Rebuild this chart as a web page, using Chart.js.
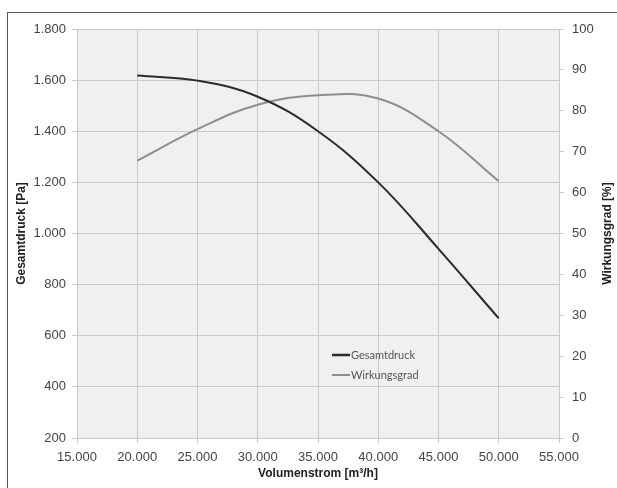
<!DOCTYPE html>
<html>
<head>
<meta charset="utf-8">
<script src="https://cdn.jsdelivr.net/npm/chart.js@4"></script>
<style>
    body { margin: 0; background: #fff; overflow: hidden; }
    #frame { position: absolute; left: 7px; top: 12px; width: 700px; height: 600px;
             border-left: 1px solid #555; border-top: 1px solid #555; }
    #chart { position: absolute; left: 0; top: 0; }
</style>
</head>
<body>
<div id="frame"></div>
<canvas id="chart" width="617" height="488"></canvas>
<script>
// Kennlinien
var volumenstrom = [20000, 25000, 30000, 35000, 40000, 45000, 50000]
var gesamtdruck = [1618, 1598, 1535, 1400, 1200, 940, 668]
var wirkungsgrad = [67.8, 75.5, 81.5, 83.8, 83, 75, 62.8]

var seriesNames = ['Gesamtdruck', 'Wirkungsgrad']
var xTitle = 'Volumenstrom [m³/h]'
var yTitle = 'Gesamtdruck [Pa]'
var y2Title = 'Wirkungsgrad [%]'

function fmt(v) {
    return String(v).replace(/\B(?=(\d{3})+(?!\d))/g, '.')
}

function points(ys) {
    return volumenstrom.map(function (x, i) { return { x: x, y: ys[i] } })
}

var gridColor = '#c9c9c9'
var tickFont = { family: 'Liberation Sans', size: 13 }
var titleFont = { family: 'Liberation Sans', size: 12, weight: 'bold' }

const plotBg = {
    id: 'plotBg',
    beforeDraw: function (chart) {
        var a = chart.chartArea, ctx = chart.ctx
        ctx.save()
        ctx.fillStyle = '#f0f0f0'
        ctx.fillRect(a.left, a.top, a.right - a.left, a.bottom - a.top)
        ctx.restore()
    }
}

// legend inside the plot + right axis title reading bottom-up
const extras = {
    id: 'extras',
    afterDraw: function (chart) {
        var a = chart.chartArea, ctx = chart.ctx
        ctx.save()
        chart.data.datasets.forEach(function (ds, i) {
            var y = a.top + 326 + i * 20
            ctx.strokeStyle = ds.borderColor
            ctx.lineWidth = i == 0 ? 2.5 : 2
            ctx.beginPath()
            ctx.moveTo(a.left + 255, y)
            ctx.lineTo(a.left + 273, y)
            ctx.stroke()
            ctx.fillStyle = '#555'
            ctx.font = '11px Lato'
            ctx.textBaseline = 'middle'
            ctx.fillText(ds.label, a.left + 274, y)
        })
        ctx.translate(608, (a.top + a.bottom) / 2)
        ctx.rotate(-Math.PI / 2)
        ctx.font = 'bold 12px "Liberation Sans"'
        ctx.fillStyle = '#222'
        ctx.textAlign = 'center'
        ctx.textBaseline = 'middle'
        ctx.fillText(y2Title, 0, 0)
        ctx.restore()
    }
}

const myChart = new Chart(document.getElementById('chart'), {
    type: 'line',
    data: {
        datasets: [{
            label: seriesNames[0],
            data: points(gesamtdruck),
            borderColor: '#2b2b2b',
            borderWidth: 2,
            pointRadius: 0,
            tension: 0.4,
            yAxisID: 'y'
        }, {
            label: seriesNames[1],
            data: points(wirkungsgrad),
            borderColor: '#8e8e8e',
            borderWidth: 2,
            pointRadius: 0,
            tension: 0.4,
            yAxisID: 'y2'
        }]
    },
    options: {
        responsive: false,
        animation: false,
        layout: { padding: { left: 0, right: 0, top: 29, bottom: 0 } },
        plugins: { legend: { display: false }, tooltip: { enabled: false } },
        scales: {
            x: {
                type: 'linear',
                min: 15000,
                max: 55000,
                afterFit: function (s) { s.height = 50 },
                ticks: { stepSize: 5000, padding: 7, color: '#444', font: tickFont, maxRotation: 0,
                         callback: function (v) { return fmt(v) } },
                grid: { color: gridColor, tickLength: 5 },
                border: { color: gridColor },
                title: { display: true, text: xTitle, color: '#222', font: titleFont,
                         padding: { top: 4, bottom: 7 } }
            },
            y: {
                position: 'left',
                min: 200,
                max: 1800,
                afterFit: function (s) { s.width = 77 },
                ticks: { stepSize: 200, padding: 6, color: '#444', font: tickFont,
                         callback: function (v) { return fmt(v) } },
                grid: { color: gridColor, tickLength: 5 },
                border: { color: gridColor },
                title: { display: true, text: yTitle, color: '#222', font: titleFont,
                         padding: { top: 14, bottom: 0 } }
            },
            y2: {
                position: 'right',
                min: 0,
                max: 100,
                afterFit: function (s) { s.width = 58 },
                ticks: { stepSize: 10, padding: 8, color: '#444', font: tickFont },
                grid: { color: gridColor, tickLength: 5, drawOnChartArea: false },
                border: { color: gridColor }
            }
        }
    },
    plugins: [plotBg, extras]
})
</script>
</body>
</html>
